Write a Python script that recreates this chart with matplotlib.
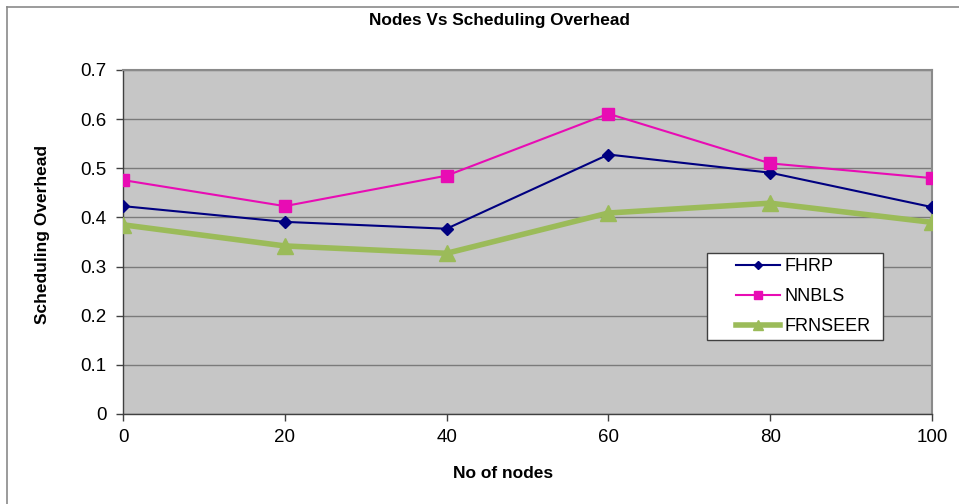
import matplotlib
matplotlib.use("Agg")
import matplotlib.pyplot as plt
from matplotlib.lines import Line2D
from matplotlib.patches import Rectangle

# data
nodes = [0, 20, 40, 60, 80, 100]
fhrp = [0.423, 0.391, 0.377, 0.528, 0.491, 0.421]
nnbls = [0.476, 0.423, 0.485, 0.611, 0.510, 0.480]
frnseer = [0.385, 0.342, 0.327, 0.409, 0.429, 0.390]

plt.rcParams['font.family'] = ['Liberation Sans', 'DejaVu Sans']

fig = plt.figure(figsize=(9.59, 5.04), dpi=100)
ax = fig.add_axes([123 / 959, 90 / 504, 809 / 959, 344 / 504])

# outer chart frame (top and left edges visible)
fig.add_artist(Line2D([7 / 959, 1], [1 - 7 / 504] * 2, color='#8a8a8a', lw=1.2))
fig.add_artist(Line2D([7 / 959] * 2, [0, 1 - 7 / 504], color='#8a8a8a', lw=1.2))

ax.set_facecolor('#c6c6c6')

ax.plot(nodes, fhrp, color='#000080', lw=1.5, marker='D', ms=6,
        label='FHRP', zorder=4)
ax.plot(nodes, nnbls, color='#e80cb4', lw=1.5, marker='s', ms=8,
        label='NNBLS', zorder=4)
ax.plot(nodes, frnseer, color='#9bbb59', lw=4, marker='^', ms=11,
        label='FRNSEER', zorder=3)

ax.set_xlim(0, 100)
ax.set_ylim(0, 0.7)
ax.set_xticks(nodes)
ax.set_yticks([0, 0.1, 0.2, 0.3, 0.4, 0.5, 0.6, 0.7])
ax.set_yticklabels(['0', '0.1', '0.2', '0.3', '0.4', '0.5', '0.6', '0.7'])
ax.tick_params(axis='both', labelsize=13.5, length=5, width=1,
               color='#404040', direction='out')
ax.tick_params(axis='y', pad=7)
ax.tick_params(axis='x', pad=6)

ax.grid(True, axis='y', color='#7a7a7a', lw=1)
ax.set_axisbelow(True)

for side in ['top', 'right']:
    ax.spines[side].set_color('#8a8a8a')
    ax.spines[side].set_linewidth(1.5)
for side in ['left', 'bottom']:
    ax.spines[side].set_color('#404040')
    ax.spines[side].set_linewidth(1)

fig.text(499 / 959, 1 - 20 / 504,
         'Nodes Vs Scheduling Overhead', ha='center', va='center',
         fontsize=12.4, fontweight='bold')
fig.text(503 / 959, 1 - 473 / 504, 'No of nodes',
         ha='center', va='center', fontsize=12.5, fontweight='bold')
fig.text(43 / 959, 1 - 235 / 504, 'Scheduling Overhead', rotation=90,
         ha='center', va='center', fontsize=12.5, fontweight='bold')

# legend box drawn separately so the left padding matches
ax.add_patch(Rectangle((0.722, 0.215), 0.2175, 0.254, transform=ax.transAxes,
                       facecolor='white', edgecolor='#404040', lw=1,
                       zorder=5))
leg = ax.legend(loc='center left', bbox_to_anchor=(0.758, 0.342),
                fontsize=13, frameon=False,
                borderpad=0, labelspacing=0.72, handlelength=2.4,
                handletextpad=0.3, borderaxespad=0, markerscale=0.65)
leg.set_zorder(6)

fig.savefig('out.png', dpi=100)
